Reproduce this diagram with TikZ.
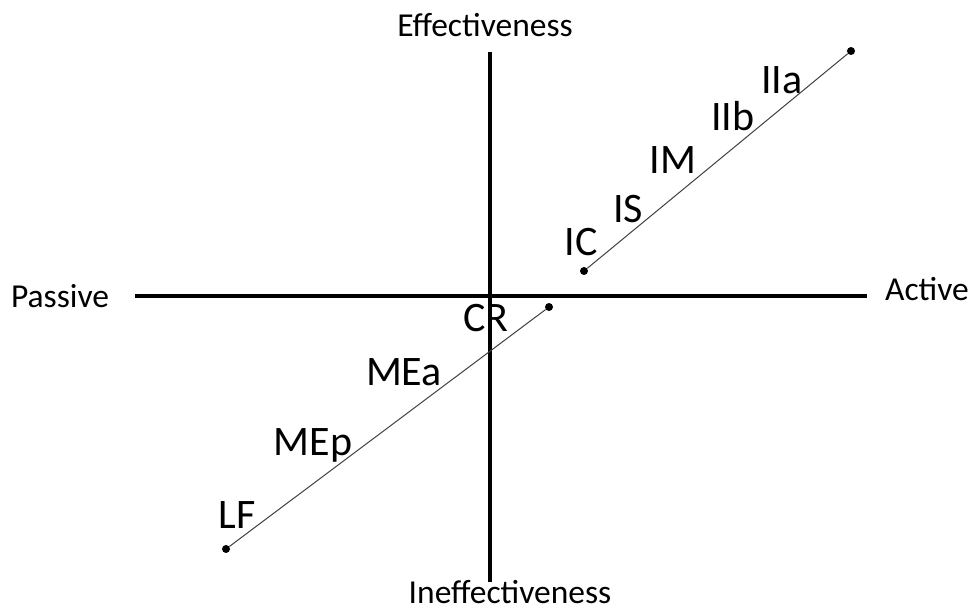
\documentclass[tikz,border=0pt]{standalone}
\usepackage{fontspec}
\setmainfont{Carlito}
\usetikzlibrary{positioning,calc}
\definecolor{inkgrey}{HTML}{404040}
\tikzset{axislabel/.style={font=\fontsize{33.5}{38}\selectfont,anchor=base,inner sep=0pt},stagelabel/.style={font=\fontsize{42}{48}\selectfont,anchor=base,inner sep=0pt},enddot/.style={circle,fill=black,minimum size=8pt,inner sep=0pt},axis/.style={line width=3.6pt},track/.style={line width=1pt,inkgrey},every picture/.style={line cap=butt}}
\begin{document}
\begin{tikzpicture}[x=1pt,y=-1pt]
\useasboundingbox (0,0) rectangle (971,610);
% axes
\coordinate (top) at (490,52);
\coordinate (bottom) at (490,582);
\coordinate (left) at (135,296);
\coordinate (right) at (867,296);
\draw[axis] (top)--(bottom);
\draw[axis] (left)--(right);
\node[axislabel] (eff) at (485,37) {Effectiveness};
\node[axislabel] (ineff) at (510,603) {Ineffectiveness};
\node[axislabel] (passive) at (60,307) {Passive};
\node[axislabel] (active) at (927,300) {Active};
% upper track
\node[enddot] (ic) at (584,271) {};
\node[enddot] (iia) at (851,51) {};
\draw[track] (ic)--(iia);
% lower track
\node[enddot] (lf) at (226,549) {};
\node[enddot] (cr) at (549,307) {};
\draw[track] (lf)--(cr);
% stages
\foreach \name/\x/\y/\txt in {lic/581/255/IC,lis/628/222/IS,lim/673/173/IM,liib/733/130/IIb,liia/782/93/IIa,lcr/486/331/CR,lmea/404/385/MEa,lmep/313/455/MEp,llf/237/528/LF}{
\node[stagelabel] (\name) at (\x,\y) {\txt};
}
\end{tikzpicture}
\end{document}
